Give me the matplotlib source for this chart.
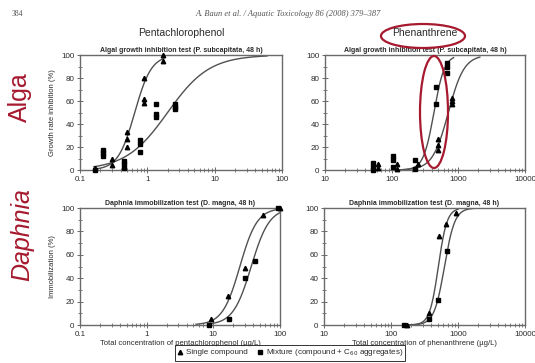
import matplotlib.pyplot as plt
import numpy as np
from matplotlib.patches import Ellipse
from matplotlib.lines import Line2D
from matplotlib.ticker import LogLocator, MultipleLocator, FuncFormatter, NullFormatter

plt.rcParams['font.family'] = ['Liberation Sans', 'DejaVu Sans']

# --- data ---
# pentachlorophenol, algal growth inhibition
pcp_alg_single_x = [0.165, 0.30, 0.30, 0.50, 0.50, 0.50, 0.89, 0.89, 0.89, 1.68, 1.68]
pcp_alg_single_y = [2, 10, 4, 33, 27, 20, 80, 62, 58, 100, 95]
pcp_alg_mix_x = [0.165, 0.22, 0.22, 0.22, 0.45, 0.45, 0.45, 0.77, 0.77, 0.77,
                 1.35, 1.35, 1.35, 2.6, 2.6, 2.6]
pcp_alg_mix_y = [0, 17, 15, 12, 8, 5, 2, 26, 23, 16, 57, 49, 46, 57, 55, 53]

# phenanthrene, algal growth inhibition
phe_alg_single_x = [63, 63, 119, 119, 251, 500, 500, 500, 794, 794, 794]
phe_alg_single_y = [5, 1.5, 5, 1, 5, 27, 22, 17, 63, 60, 57]
phe_alg_mix_x = [53, 53, 53, 106, 106, 106, 224, 224, 457, 457, 680, 680, 680]
phe_alg_mix_y = [6, 3, 0, 12, 9, 3, 9, 0.5, 72, 57, 93, 90, 84]

# pentachlorophenol, daphnia immobilization
pcp_dap_single_x = [9.1, 16.7, 29.5, 56, 100]
pcp_dap_single_y = [5, 25, 49, 94, 100]
pcp_dap_mix_x = [8.6, 17, 29.5, 42, 92]
pcp_dap_mix_y = [0, 5.5, 40, 55, 100]

# phenanthrene, daphnia immobilization
phe_dap_single_x = [172, 367, 525, 668, 944]
phe_dap_single_y = [0, 10, 76, 86, 96]
phe_dap_mix_x = [158, 367, 501, 693]
phe_dap_mix_y = [0, 5, 21, 63]

# fitted dose-response curves: (EC50, slope, x from, x to)
pcp_alg_fit_single = (0.65, 3.5, 0.16, 1.75)
pcp_alg_fit_mix = (2.0, 1.4, 0.16, 60)
phe_alg_fit_single = (708, 3.66, 110, 2100)
phe_alg_fit_mix = (430, 5.5, 110, 850)
pcp_dap_fit_single = (25, 3.35, 5.5, 100)
pcp_dap_fit_mix = (37, 3.2, 8.5, 100)
phe_dap_fit_single = (509, 6.7, 150, 1000)
phe_dap_fit_mix = (628, 5.65, 150, 1900)

RED = '#a6192e'
GRAY = '#6a6a6a'
TXT = '#2a2a2a'


def hill(fit):
    ec50, slope, x0, x1 = fit
    x = np.logspace(np.log10(x0), np.log10(x1), 300)
    return x, 100 / (1 + (ec50 / x) ** slope)


def panel(ax, sx, sy, mx, my, fs, fm, xlim, title, ylabel, xlabel):
    for fit in (fs, fm):
        x, y = hill(fit)
        ax.plot(x, y, color='#505050', lw=1.0, zorder=2)
    ax.plot(sx, sy, '^', color='k', ms=3.2, ls='none', clip_on=False, zorder=3)
    ax.plot(mx, my, 's', color='k', ms=3.2, ls='none', clip_on=False, zorder=3)
    ax.set_xscale('log')
    ax.set_xlim(*xlim)
    ax.set_ylim(0, 100)
    ax.yaxis.set_major_locator(MultipleLocator(20))
    ax.yaxis.set_minor_locator(MultipleLocator(10))
    ax.xaxis.set_major_locator(LogLocator(base=10, numticks=10))
    ax.xaxis.set_minor_locator(LogLocator(base=10, subs=np.arange(2, 10), numticks=10))
    ax.xaxis.set_major_formatter(FuncFormatter(lambda v, p: f'{v:g}'))
    ax.xaxis.set_minor_formatter(NullFormatter())
    ax.tick_params(which='major', direction='inout', length=5, width=0.7,
                   color=GRAY, labelsize=5.8, labelcolor=TXT, pad=1.5)
    ax.tick_params(which='minor', direction='inout', length=3, width=0.6, color=GRAY)
    for s in ax.spines.values():
        s.set_color(GRAY)
        s.set_linewidth(1.0)
    ax.set_title(title, fontsize=5, fontweight='bold', color=TXT, pad=2)
    ax.set_ylabel(ylabel, fontsize=5.5, color=TXT, labelpad=4)
    if xlabel:
        ax.set_xlabel(xlabel, fontsize=5.5, color=TXT, labelpad=2)


W, H = 535, 363
fig = plt.figure(figsize=(W / 100, H / 100), dpi=100)


def box(x0, y0, x1, y1):
    return [x0 / W, 1 - y1 / H, (x1 - x0) / W, (y1 - y0) / H]


ax1 = fig.add_axes(box(80, 55, 282, 170))
ax2 = fig.add_axes(box(325, 55, 525, 170))
ax3 = fig.add_axes(box(80, 208, 280, 325))
ax4 = fig.add_axes(box(324, 208, 525, 325))

alg_title = 'Algal growth inhibition test (P. subcapitata, 48 h)'
dap_title = 'Daphnia immobilization test (D. magna, 48 h)'

panel(ax1, pcp_alg_single_x, pcp_alg_single_y, pcp_alg_mix_x, pcp_alg_mix_y,
      pcp_alg_fit_single, pcp_alg_fit_mix, (0.1, 100), alg_title,
      'Growth rate inhibition (%)', None)
panel(ax2, phe_alg_single_x, phe_alg_single_y, phe_alg_mix_x, phe_alg_mix_y,
      phe_alg_fit_single, phe_alg_fit_mix, (10, 10000), alg_title, '', None)
panel(ax3, pcp_dap_single_x, pcp_dap_single_y, pcp_dap_mix_x, pcp_dap_mix_y,
      pcp_dap_fit_single, pcp_dap_fit_mix, (0.1, 100), dap_title,
      'Immobilization (%)', 'Total concentration of pentachlorophenol (µg/L)')
panel(ax4, phe_dap_single_x, phe_dap_single_y, phe_dap_mix_x, phe_dap_mix_y,
      phe_dap_fit_single, phe_dap_fit_mix, (10, 10000), dap_title, '',
      'Total concentration of phenanthrene (µg/L)')

# page header
fig.text(12 / W, 1 - 14 / H, '384', fontsize=5.5, family='Liberation Serif',
         color='#555555', ha='left', va='center')
fig.text(288 / W, 1 - 14 / H, 'A. Baun et al. / Aquatic Toxicology 86 (2008) 379–387',
         fontsize=6, family='Liberation Serif', style='italic', color='#555555',
         ha='center', va='center')

# compound headings
fig.text(181 / W, 1 - 33 / H, 'Pentachlorophenol', fontsize=7.5, color=TXT,
         ha='center', va='center')
fig.text(425 / W, 1 - 33 / H, 'Phenanthrene', fontsize=7.5, color=TXT,
         ha='center', va='center')

# red annotations
fig.text(20 / W, 1 - 97 / H, 'Alga', fontsize=18, color=RED, rotation=90,
         ha='center', va='center')
fig.text(22 / W, 1 - 235 / H, 'Daphnia', fontsize=18, color=RED, rotation=90,
         style='italic', ha='center', va='center')
fig.patches.append(Ellipse((423 / W, 1 - 36 / H), 84 / W, 24 / H,
                           transform=fig.transFigure, fill=False, ec=RED, lw=1.6))
fig.patches.append(Ellipse((434 / W, 1 - 112 / H), 28 / W, 112 / H,
                           transform=fig.transFigure, fill=False, ec=RED, lw=1.6))

# legend
handles = [
    Line2D([], [], marker='^', ls='none', color='k', ms=3.2, label='Single compound'),
    Line2D([], [], marker='s', ls='none', color='k', ms=3.2,
           label='Mixture (compound + C$_{60}$ aggregates)'),
]
leg = fig.legend(handles=handles, loc='center', bbox_to_anchor=(290 / W, 1 - 353 / H),
                 ncol=2, fontsize=5.8, frameon=True, fancybox=False,
                 handlelength=0.8, handletextpad=0.3, columnspacing=1.2,
                 borderpad=0.25)
leg.get_frame().set_edgecolor('k')
leg.get_frame().set_linewidth(0.7)
for t in leg.get_texts():
    t.set_color(TXT)

fig.savefig('out.png', dpi=100)
